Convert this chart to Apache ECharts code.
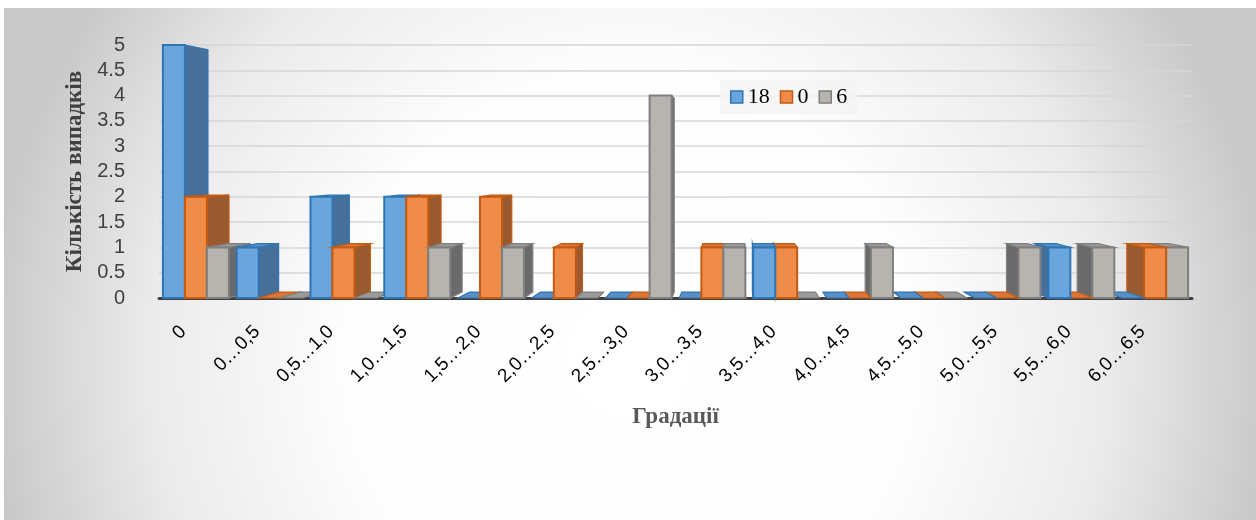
<!DOCTYPE html>
<html>
<head>
<meta charset="utf-8">
<script src="https://cdn.jsdelivr.net/npm/echarts@6/dist/echarts.min.js"></script>
<style>
  html, body { margin: 0; padding: 0; background: #ffffff; }
  #chart { position: absolute; left: 4px; top: 8px; width: 1252px; height: 512px; }
</style>
</head>
<body>
<div id="chart"></div>
<script>
const categories = ['0', '0…0,5', '0,5…1,0', '1,0…1,5', '1,5…2,0', '2,0…2,5', '2,5…3,0',
  '3,0…3,5', '3,5…4,0', '4,0…4,5', '4,5…5,0', '5,0…5,5', '5,5…6,0', '6,0…6,5'];
const seriesNames = ['18', '0', '6'];
const values18 = [5, 1, 2, 2, 0, 0, 0, 0, 1, 0, 0, 0, 1, 0];
const values0 = [2, 0, 1, 2, 2, 1, 0, 1, 1, 0, 0, 0, 0, 1];
const values6 = [1, 0, 0, 1, 1, 0, 4, 1, 0, 1, 0, 1, 1, 1];

const palettes = [
  { front: '#6aa5dc', border: '#2e75b6', side: '#46709a', top: '#5a8fc4' },
  { front: '#f08c4a', border: '#c55a11', side: '#9a5a30', top: '#d9763a' },
  { front: '#b7b4b0', border: '#7f7f7f', side: '#6a6a6a', top: '#9a9a9a' }
];

// perspective: back face shrinks towards a vanishing point
const K = 0.042;

function makeRender(j) {
  const pal = palettes[j];
  return function (params, api) {
    const cs = params.coordSys;
    const vp = [cs.x + cs.width * 0.556, cs.y + cs.height * 0.44];
    const cat = api.value(0);
    const base = api.coord([cat, 0]);
    const top = api.coord([cat, api.value(1)]);
    const band = api.size([1, 0])[0];
    const barW = band * 0.298;
    const x0 = base[0] - barW * 1.5 + j * barW;
    const x1 = x0 + barW;
    const yT = top[1], yB = base[1];
    const back = (x, y) => [x + K * (vp[0] - x), y + K * (vp[1] - y)];
    const z2 = Math.round(10000 - Math.abs((x0 + x1) / 2 - vp[0]) * 10);
    const children = [];
    const sx = (x0 + x1) / 2 < vp[0] ? x1 : x0;
    children.push({
      type: 'polygon', z2: z2,
      shape: { points: [[sx, yT], back(sx, yT), back(sx, yB), [sx, yB]] },
      style: { fill: pal.side, stroke: pal.border, lineWidth: 1.2 }
    });
    if (yT > vp[1]) {
      children.push({
        type: 'polygon', z2: z2 + 1,
        shape: { points: [[x0, yT], [x1, yT], back(x1, yT), back(x0, yT)] },
        style: { fill: pal.top, stroke: pal.border, lineWidth: 1.2 }
      });
    }
    if (yB - yT > 0.5) {
      children.push({
        type: 'rect', z2: z2 + 2,
        shape: { x: x0, y: yT, width: barW, height: yB - yT },
        style: { fill: pal.front, stroke: pal.border, lineWidth: 2 }
      });
    }
    return { type: 'group', children: children };
  };
}

const seriesValues = [values18, values0, values6];

const chart = echarts.init(document.getElementById('chart'));
chart.setOption({
  animation: false,
  backgroundColor: {
    type: 'radial', x: 0.5, y: 0.68, r: 1.25,
    colorStops: [
      { offset: 0, color: '#ffffff' },
      { offset: 0.45, color: '#fdfdfd' },
      { offset: 0.75, color: '#ebebeb' },
      { offset: 1, color: '#c9c9c9' }
    ]
  },
  grid: { left: 155, right: 64, top: 37, bottom: 222 },
  legend: {
    left: 716, top: 72,
    padding: [6, 10],
    backgroundColor: 'rgba(244,244,244,0.85)',
    itemWidth: 12, itemHeight: 12, itemGap: 10,
    icon: 'rect',
    textStyle: { fontFamily: 'Liberation Serif', fontSize: 22, color: '#000' },
    data: seriesNames.map((n, j) => ({
      name: n,
      itemStyle: { color: palettes[j].front, borderColor: palettes[j].border, borderWidth: 1.5 }
    }))
  },
  xAxis: {
    type: 'category',
    data: categories,
    name: 'Градації',
    nameLocation: 'middle',
    nameGap: 108,
    nameTextStyle: { fontFamily: 'Liberation Serif', fontWeight: 'bold', fontSize: 23, color: '#595959' },
    axisTick: { show: false },
    axisLine: { lineStyle: { color: '#404040', width: 3 } },
    axisLabel: {
      rotate: 45, margin: 18, padding: [0, 18, 0, 0],
      fontFamily: 'Liberation Sans', fontSize: 19, color: '#000'
    }
  },
  yAxis: {
    type: 'value',
    min: 0, max: 5, interval: 0.5,
    name: 'Кількість випадків',
    nameLocation: 'middle',
    nameGap: 72,
    nameTextStyle: { fontFamily: 'Liberation Serif', fontWeight: 'bold', fontSize: 23, color: '#404040' },
    axisLine: { show: false },
    axisTick: { show: false },
    axisLabel: { margin: 34, fontFamily: 'Liberation Sans', fontSize: 20, color: '#404040' },
    splitLine: { lineStyle: { color: '#d6d6d6', width: 1.5 } }
  },
  series: seriesNames.map((n, j) => ({
    name: n,
    type: 'custom',
    renderItem: makeRender(j),
    itemStyle: { color: palettes[j].front },
    encode: { x: 0, y: 1 },
    data: categories.map((c, i) => [i, seriesValues[j][i]])
  }))
});
</script>
</body>
</html>
